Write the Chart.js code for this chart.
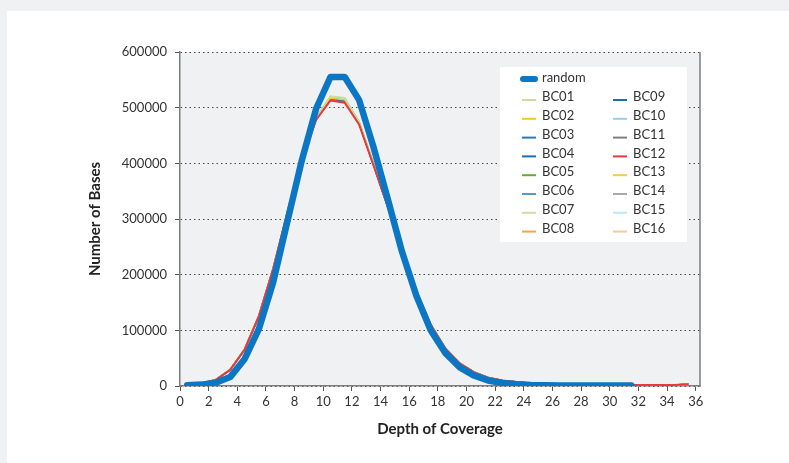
<!DOCTYPE html>
<html>
<head>
<meta charset="utf-8">
<script src="https://cdn.jsdelivr.net/npm/chart.js@4.4.0/dist/chart.umd.min.js"></script>
<style>
  html, body { margin: 0; padding: 0; background: #f0f1f3; }
  #panel { position: absolute; left: 7px; top: 11px; width: 782px; height: 452px; background: #ffffff; }
  #wrap { position: absolute; left: 0; top: 0; width: 789px; height: 463px; }
</style>
</head>
<body>
<div id="panel"></div>
<div id="wrap"><canvas id="coverageChart" width="789" height="463"></canvas></div>
<script>
// depth of coverage bins (bar midpoints)
const depthRandom = [0.5, 1.5, 2.5, 3.5, 4.5, 5.5, 6.5, 7.5, 8.5, 9.5, 10.5, 11.5, 12.5, 13.5, 14.5, 15.5,
    16.5, 17.5, 18.5, 19.5, 20.5, 21.5, 22.5, 23.5, 24.5, 25.5, 26.5, 27.5, 28.5, 29.5, 30.5, 31.5];
const depthBC = [0.5, 1.5, 2.5, 3.5, 4.5, 5.5, 6.5, 7.5, 8.5, 9.5, 10.5, 11.5, 12.5, 13.5, 14.5, 15.5,
    16.5, 17.5, 18.5, 19.5, 20.5, 21.5, 22.5, 23.5, 24.5, 25.5, 26.5, 27.5, 28.5, 29.5, 30.5, 31.5,
    32.5, 33.5, 34.5, 35.5];

const xTicks = [0, 2, 4, 6, 8, 10, 12, 14, 16, 18, 20, 22, 24, 26, 28, 30, 32, 34, 36];
const yTicks = [0, 100000, 200000, 300000, 400000, 500000, 600000];

const randomValues = [1500, 2500, 6000, 16000, 48000, 102000, 186000, 296000, 405000, 498000, 555000, 555000,
    514000, 430000, 336000, 241000, 162000, 100000, 60000, 34000, 19000, 10000, 5500, 3000, 1800, 1200,
    900, 800, 700, 700, 700, 700];

const bc01 = [3600, 5200, 11500, 29500, 66000, 126000, 211000, 313000, 407000, 481000, 519000, 516000, 474000, 400000, 324000, 243000, 171000, 111000, 69000, 41500, 25500, 15500, 10000, 7000, 5000, 4000, 3500, 3000, 3000, 2500, 2500, 2000, 2000, 2000, 2000, 3000];
const bc02 = [3500, 5100, 11200, 29200, 65500, 125500, 210500, 312500, 406000, 480000, 517000, 514000, 473000, 399000, 323000, 242500, 170500, 110500, 68500, 41000, 25000, 15000, 10000, 7000, 5000, 4000, 3500, 3000, 3000, 2500, 2500, 2000, 2000, 2000, 2000, 3000];
const bc03 = [3400, 5000, 11000, 28800, 65000, 125000, 210000, 312000, 405500, 479000, 515000, 512000, 472000, 398000, 322500, 242000, 170000, 110000, 68000, 41000, 25000, 15000, 10000, 7000, 5000, 4000, 3500, 3000, 3000, 2500, 2500, 2000, 2000, 2000, 2000, 3000];
const bc04 = [3500, 5000, 11100, 29000, 65200, 125300, 210200, 312300, 405800, 479500, 516000, 513000, 472500, 398500, 323000, 242200, 170200, 110200, 68200, 41200, 25200, 15200, 10000, 7000, 5000, 4000, 3500, 3000, 3000, 2500, 2500, 2000, 2000, 2000, 2000, 3000];
const bc05 = [3600, 5100, 11300, 29300, 65800, 125800, 210800, 312800, 406500, 480500, 518000, 515000, 473500, 399500, 323500, 242800, 170800, 110800, 68800, 41300, 25300, 15300, 10000, 7000, 5000, 4000, 3500, 3000, 3000, 2500, 2500, 2000, 2000, 2000, 2000, 3000];
const bc06 = [3400, 4900, 10900, 28700, 64800, 124800, 209800, 311800, 405200, 478500, 514000, 511000, 471500, 397500, 322200, 241800, 169800, 109800, 67800, 40800, 24800, 14800, 9800, 6800, 4800, 3900, 3400, 3000, 2900, 2500, 2400, 2000, 2000, 1900, 2000, 2800];
const bc07 = [3700, 5300, 11600, 29700, 66300, 126300, 211300, 313300, 407500, 482000, 521000, 518000, 475000, 401000, 325000, 243500, 171500, 111500, 69500, 41800, 25800, 15800, 10200, 7100, 5100, 4100, 3600, 3100, 3000, 2600, 2500, 2100, 2000, 2000, 2000, 3000];
const bc08 = [3500, 5100, 11200, 29100, 65400, 125400, 210400, 312400, 406000, 480000, 517500, 514500, 473200, 399200, 323200, 242400, 170400, 110400, 68400, 41100, 25100, 15100, 10000, 7000, 5000, 4000, 3500, 3000, 3000, 2500, 2500, 2000, 2000, 2000, 2000, 3000];
const bc09 = [3400, 5000, 11000, 28900, 65100, 125100, 210100, 312100, 405600, 479200, 515500, 512500, 472200, 398200, 322600, 242100, 170100, 110100, 68100, 41000, 25000, 15000, 10000, 7000, 5000, 4000, 3500, 3000, 3000, 2500, 2500, 2000, 2000, 2000, 2000, 3000];
const bc10 = [3600, 5200, 11400, 29400, 65900, 125900, 210900, 312900, 406800, 481000, 519500, 516500, 474200, 400200, 324200, 243000, 171000, 111000, 69000, 41400, 25400, 15400, 10100, 7000, 5000, 4000, 3500, 3000, 3000, 2500, 2500, 2000, 2000, 2000, 2000, 3000];
const bc11 = [3500, 5000, 11100, 29000, 65300, 125300, 210300, 312300, 405900, 479800, 516500, 513500, 472800, 398800, 323100, 242300, 170300, 110300, 68300, 41100, 25100, 15100, 10000, 7000, 5000, 4000, 3500, 3000, 3000, 2500, 2500, 2000, 2000, 2000, 2000, 3000];
const bc12 = [3500, 5000, 11000, 29000, 65000, 125000, 210000, 312000, 405000, 478000, 513000, 509000, 470000, 397000, 322000, 242000, 170000, 110000, 68000, 41000, 25000, 15000, 10000, 7000, 5000, 4000, 3500, 3000, 3000, 2500, 2500, 2000, 2000, 2000, 2000, 3000];
const bc13 = [3600, 5100, 11300, 29200, 65700, 125700, 210700, 312700, 406300, 480800, 518500, 515500, 473800, 399800, 323800, 242700, 170700, 110700, 68700, 41200, 25200, 15200, 10000, 7000, 5000, 4000, 3500, 3000, 3000, 2500, 2500, 2000, 2000, 2000, 2000, 3000];
const bc14 = [3500, 5100, 11200, 29100, 65500, 125500, 210500, 312500, 406100, 480300, 517200, 514200, 473100, 399100, 323300, 242500, 170500, 110500, 68500, 41100, 25100, 15100, 10000, 7000, 5000, 4000, 3500, 3000, 3000, 2500, 2500, 2000, 2000, 2000, 2000, 3000];
const bc15 = [3700, 5200, 11500, 29600, 66100, 126100, 211100, 313100, 407200, 481500, 520000, 517000, 474500, 400500, 324500, 243200, 171200, 111200, 69200, 41600, 25600, 15600, 10100, 7100, 5100, 4100, 3600, 3100, 3000, 2600, 2500, 2100, 2000, 2000, 2000, 3000];
const bc16 = [3400, 4900, 11000, 28800, 64900, 124900, 209900, 311900, 405400, 478800, 514500, 511500, 471800, 397800, 322400, 241900, 169900, 109900, 67900, 40900, 24900, 14900, 9900, 6900, 4900, 3900, 3400, 3000, 2900, 2500, 2400, 2000, 2000, 1900, 2000, 2900];

const bcNames = ['BC01', 'BC02', 'BC03', 'BC04', 'BC05', 'BC06', 'BC07', 'BC08',
    'BC09', 'BC10', 'BC11', 'BC12', 'BC13', 'BC14', 'BC15', 'BC16'];
const bcSeries = [bc01, bc02, bc03, bc04, bc05, bc06, bc07, bc08, bc09, bc10, bc11, bc12, bc13, bc14, bc15, bc16];
const bcColors = ['#c5dea3', '#f6c623', '#1a7cc7', '#1d6db1', '#5cb134', '#4f9ad3', '#c9dea6', '#f7a34c',
    '#176fb6', '#8dd0f2', '#7f7f7f', '#e8393f', '#f7c945', '#a9a9a9', '#bfe5f8', '#f8c99b'];
const randomColor = '#0b77c4';

const FONT = 'Lato, "Open Sans", sans-serif';

const toPoints = (xs, ys) => ys.map((v, i) => ({ x: xs[i], y: v }));

const datasets = [{
    label: 'random',
    data: toPoints(depthRandom, randomValues),
    borderColor: randomColor,
    backgroundColor: randomColor,
    borderWidth: 6.5,
    borderCapStyle: 'round',
    borderJoinStyle: 'round',
    pointRadius: 0,
    order: 0
}];
bcNames.forEach((name, i) => {
    datasets.push({
        label: name,
        data: toPoints(depthBC, bcSeries[i]),
        borderColor: bcColors[i],
        backgroundColor: bcColors[i],
        borderWidth: name === 'BC12' ? 2 : 1.5,
        pointRadius: 0,
        order: name === 'BC12' ? 1 : 2
    });
});

const plotBackground = {
    id: 'plotBackground',
    beforeDraw(chart) {
        const { ctx, chartArea: a } = chart;
        ctx.save();
        ctx.fillStyle = '#f0f1f3';
        ctx.fillRect(a.left, a.top, a.right - a.left, a.bottom - a.top);
        ctx.restore();
    },
    afterDatasetsDraw(chart) {
        const { ctx, chartArea: a } = chart;
        ctx.save();
        ctx.strokeStyle = '#7d7d7d';
        ctx.lineWidth = 1.5;
        ctx.beginPath();
        ctx.moveTo(a.right, a.top);
        ctx.lineTo(a.right, a.bottom);
        ctx.stroke();
        ctx.restore();
    }
};

// legend box drawn inside the plot, two columns
const boxLegend = {
    id: 'boxLegend',
    afterDraw(chart) {
        const ctx = chart.ctx;
        const x0 = 500, y0 = 67, w = 187, h = 175;
        ctx.save();
        ctx.fillStyle = '#ffffff';
        ctx.fillRect(x0, y0, w, h);
        ctx.font = '13px ' + FONT;
        ctx.textBaseline = 'middle';
        ctx.fillStyle = '#333333';

        ctx.strokeStyle = randomColor;
        ctx.lineWidth = 6;
        ctx.lineCap = 'round';
        ctx.beginPath();
        ctx.moveTo(523, 79);
        ctx.lineTo(535, 79);
        ctx.stroke();
        ctx.fillText('random', 542, 78);

        ctx.lineCap = 'butt';
        bcNames.forEach((name, i) => {
            const col = Math.floor(i / 8);
            const row = i % 8;
            const y = 97 + row * 18.8;
            const mx = col === 0 ? 522 : 613;
            ctx.strokeStyle = bcColors[i];
            ctx.lineWidth = 2;
            ctx.beginPath();
            ctx.moveTo(mx, y + 3);
            ctx.lineTo(mx + 14, y + 3);
            ctx.stroke();
            ctx.fillText(name, mx + 20, y);
        });
        ctx.restore();
    }
};

new Chart(document.getElementById('coverageChart').getContext('2d'), {
    type: 'line',
    data: { datasets },
    options: {
        responsive: false,
        animation: false,
        layout: { padding: { top: 52, right: 89, bottom: 0, left: 0 } },
        plugins: { legend: { display: false }, tooltip: { enabled: false } },
        scales: {
            x: {
                type: 'linear',
                min: 0,
                max: 36.3,
                afterBuildTicks: (scale) => { scale.ticks = xTicks.map(v => ({ value: v })); },
                afterFit: (scale) => { scale.height = 77; },
                ticks: { color: '#333', font: { family: FONT, size: 13 }, padding: 3, maxRotation: 0, autoSkip: false },
                grid: { drawOnChartArea: false, drawTicks: true, tickLength: 5, tickColor: '#555', tickWidth: 1 },
                border: { color: '#7d7d7d', width: 1.5 },
                title: {
                    display: true,
                    text: 'Depth of Coverage',
                    color: '#222',
                    font: { family: FONT, size: 15, weight: 'bold' },
                    padding: { top: 25, bottom: 25 }
                }
            },
            y: {
                min: 0,
                max: 600000,
                afterBuildTicks: (scale) => { scale.ticks = yTicks.map(v => ({ value: v })); },
                afterFit: (scale) => { scale.width = 180; },
                ticks: { color: '#333', font: { family: FONT, size: 13 }, padding: 8, callback: (v) => String(v) },
                grid: {
                    color: '#444',
                    lineWidth: 1,
                    tickLength: 5,
                    tickColor: '#555',
                    tickWidth: 1,
                    tickBorderDash: []
                },
                border: { color: '#7d7d7d', width: 1.5, dash: [1.5, 3] },
                title: {
                    display: true,
                    text: 'Number of Bases',
                    color: '#222',
                    font: { family: FONT, size: 15, weight: 'bold' },
                    padding: { top: 86, bottom: 86 }
                }
            }
        }
    },
    plugins: [plotBackground, boxLegend]
});
</script>
</body>
</html>
